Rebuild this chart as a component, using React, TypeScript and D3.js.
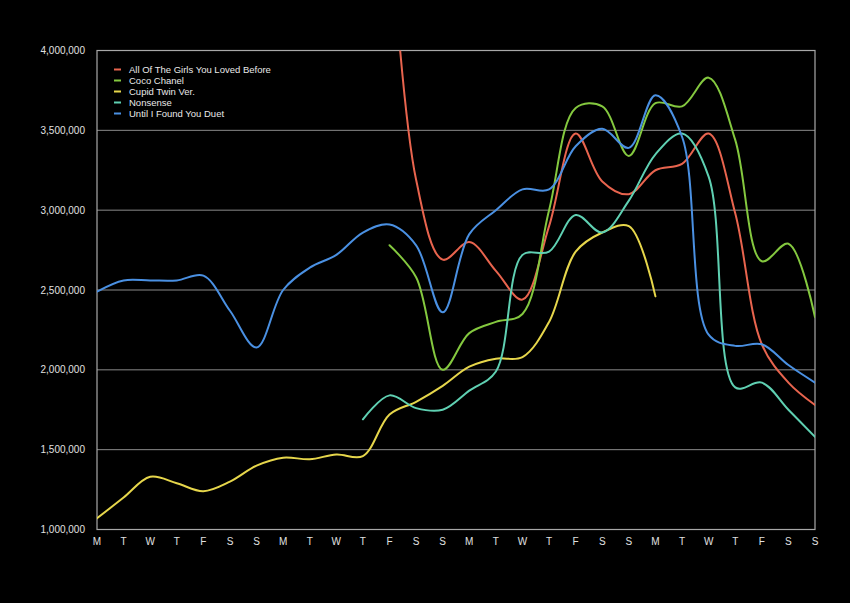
import React, { useEffect, useRef } from "react";
import * as d3 from "d3";

const days = ["M","T","W","T","F","S","S","M","T","W","T","F","S","S","M","T","W","T","F","S","S","M","T","W","T","F","S","S"];
const yTicks = [1000000, 1500000, 2000000, 2500000, 3000000, 3500000, 4000000];

const seriesNames = ["All Of The Girls You Loved Before","Coco Chanel","Cupid Twin Ver.","Nonsense","Until I Found You Duet"];
const seriesColors = ["#e8644e","#84c83f","#e6d64b","#5fd0b2","#4a90e2"];

const allOfTheGirls: (number|null)[] = [null,null,null,null,null,null,null,null,null,null,null,4850000,3190000,2690000,2800000,2620000,2440000,2900000,3480000,3180000,3100000,3250000,3290000,3480000,2980000,2160000,1920000,1780000];
const cocoChanel: (number|null)[] = [null,null,null,null,null,null,null,null,null,null,null,2780000,2580000,2000000,2230000,2300000,2350000,3000000,3640000,3650000,3340000,3670000,3650000,3830000,3440000,2680000,2790000,2330000];
const cupidTwin: (number|null)[] = [1070000,1200000,1330000,1290000,1240000,1300000,1400000,1450000,1440000,1470000,1460000,1720000,1800000,1900000,2020000,2070000,2080000,2300000,2740000,2860000,2900000,2460000,null,null,null,null,null,null];
const nonsense: (number|null)[] = [null,null,null,null,null,null,null,null,null,null,1690000,1840000,1760000,1750000,1870000,1990000,2720000,2740000,2970000,2860000,3060000,3350000,3480000,3210000,1890000,1920000,1750000,1580000];
const untilIFound: (number|null)[] = [2490000,2560000,2560000,2560000,2590000,2370000,2140000,2500000,2640000,2720000,2860000,2910000,2780000,2360000,2850000,3000000,3130000,3130000,3400000,3510000,3390000,3720000,3460000,2220000,2150000,2160000,2030000,1920000];

const allSeries = [allOfTheGirls, cocoChanel, cupidTwin, nonsense, untilIFound];

export default function App() {
  const ref = useRef<SVGSVGElement>(null);
  useEffect(() => {
    document.body.style.margin = "0";
    document.body.style.background = "#000";
    const svg = d3.select(ref.current);
    svg.selectAll("*").remove();
    const W = 850, H = 603;
    const m = { left: 97, right: 815, top: 50.5, bottom: 529.5 };
    const x = d3.scalePoint<number>().domain(days.map((_, i) => i)).range([m.left, m.right]);
    const y = d3.scaleLinear().domain([1000000, 4000000]).range([m.bottom, m.top]);
    const font = "'Liberation Sans', Arial, Helvetica, sans-serif";

    svg.append("rect").attr("width", W).attr("height", H).attr("fill", "#000");

    svg.append("defs").append("clipPath").attr("id", "plotclip")
      .append("rect").attr("x", m.left).attr("y", m.top).attr("width", m.right - m.left).attr("height", m.bottom - m.top);

    svg.append("g").selectAll("line").data(yTicks).join("line")
      .attr("x1", m.left).attr("x2", m.right)
      .attr("y1", d => y(d)).attr("y2", d => y(d))
      .attr("stroke", "#8a8a8a").attr("stroke-width", 1);

    svg.append("rect").attr("x", m.left).attr("y", m.top).attr("width", m.right - m.left).attr("height", m.bottom - m.top)
      .attr("fill", "none").attr("stroke", "#a8a8a8").attr("stroke-width", 1.2);

    svg.append("g").selectAll("text").data(yTicks).join("text")
      .attr("x", 85).attr("y", d => y(d)).attr("dy", "0.35em")
      .attr("text-anchor", "end").attr("fill", "#e0e0e0")
      .attr("font-family", font).attr("font-size", 10)
      .text(d => d3.format(",")(d));

    svg.append("g").selectAll("text").data(days).join("text")
      .attr("x", (_, i) => x(i)!).attr("y", 545)
      .attr("text-anchor", "middle").attr("fill", "#e0e0e0")
      .attr("font-family", font).attr("font-size", 10)
      .text(d => d);

    const line = d3.line<number|null>()
      .defined(d => d !== null)
      .x((_, i) => x(i)!)
      .y(d => y(d as number))
      .curve(d3.curveCatmullRom.alpha(0.5));

    const g = svg.append("g").attr("clip-path", "url(#plotclip)");
    allSeries.forEach((s, k) => {
      g.append("path").attr("d", line(s)!).attr("fill", "none")
        .attr("stroke", seriesColors[k]).attr("stroke-width", 2)
        .attr("stroke-linejoin", "round").attr("stroke-linecap", "round");
    });

    const lg = svg.append("g");
    seriesNames.forEach((n, k) => {
      const yy = 69.5 + k * 11;
      lg.append("line").attr("x1", 114).attr("x2", 121).attr("y1", yy).attr("y2", yy)
        .attr("stroke", seriesColors[k]).attr("stroke-width", 2);
      lg.append("text").attr("x", 129).attr("y", yy).attr("dy", "0.35em")
        .attr("fill", "#e8e8e8").attr("font-family", font).attr("font-size", 9.5)
        .text(n);
    });
  }, []);
  return <svg ref={ref} width={850} height={603} style={{ position: "absolute", left: 0, top: 0, display: "block" }} />;
}
